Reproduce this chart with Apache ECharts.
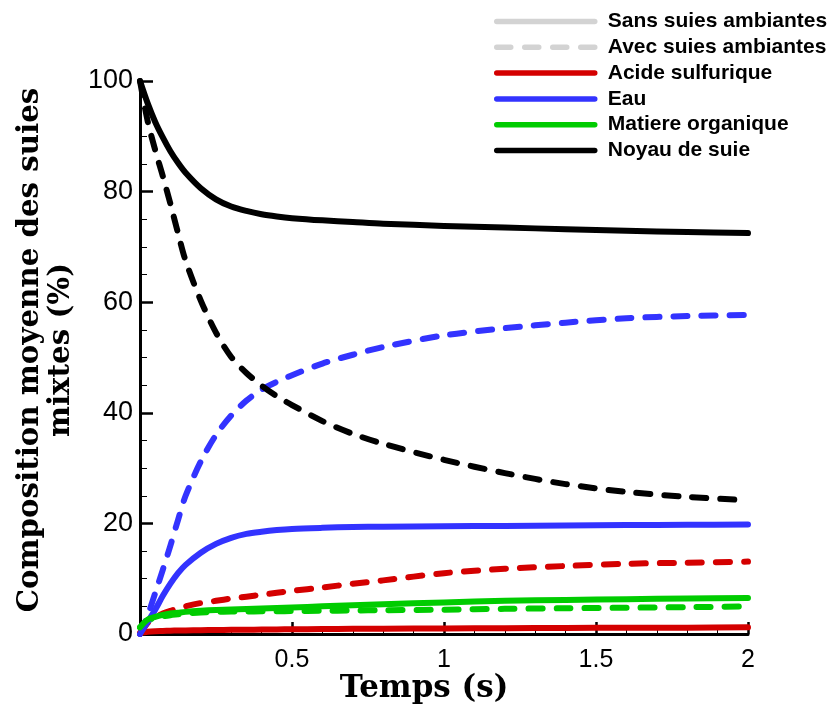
<!DOCTYPE html>
<html><head><meta charset="utf-8">
<script src="https://cdn.jsdelivr.net/npm/echarts@6/dist/echarts.min.js"></script>
<style>html,body{margin:0;padding:0;background:#fff}#c{width:830px;height:709px}</style>
</head><body><div id="c"></div>
<script>
// Time (s)
const time = [0, 0.025, 0.05, 0.075, 0.1, 0.125, 0.15, 0.2, 0.25, 0.3, 0.35, 0.4, 0.45, 0.5, 0.6, 0.7, 0.8, 1.0, 1.2, 1.4, 1.6, 1.8, 2.0];
// Sans suies ambiantes (solid)
const acideSans = [0.2, 0.4, 0.5, 0.55, 0.6, 0.63, 0.65, 0.7, 0.72, 0.75, 0.78, 0.8, 0.83, 0.85, 0.9, 0.93, 0.95, 1.0, 1.05, 1.1, 1.12, 1.15, 1.2];
const eauSans   = [0, 2.2, 4.4, 6.9, 9.1, 11, 12.5, 14.7, 16.3, 17.4, 18.1, 18.5, 18.8, 19.0, 19.2, 19.35, 19.4, 19.5, 19.55, 19.6, 19.7, 19.75, 19.8];
const matSans   = [1.2, 2.6, 3.1, 3.45, 3.7, 3.85, 4.0, 4.2, 4.35, 4.45, 4.52, 4.6, 4.7, 4.8, 5.0, 5.2, 5.4, 5.7, 6.0, 6.15, 6.3, 6.4, 6.5];
const noyauSans = [100, 96, 92.6, 89.8, 87.3, 85.2, 83.4, 80.6, 78.6, 77.3, 76.5, 75.9, 75.5, 75.2, 74.8, 74.5, 74.2, 73.8, 73.5, 73.2, 72.9, 72.7, 72.5];
// Avec suies ambiantes (dashed)
const acideAvec = [0, 2, 3, 3.7, 4.2, 4.6, 5, 5.6, 6, 6.4, 6.75, 7.1, 7.45, 7.8, 8.4, 9.1, 9.7, 11, 11.8, 12.3, 12.7, 12.9, 13.1];
const eauAvec   = [0, 3.3, 7.4, 11.6, 16, 20.6, 25, 31.2, 36, 39.5, 42.2, 44.2, 45.6, 46.8, 48.9, 50.5, 51.9, 54, 55.3, 56.3, 57.1, 57.5, 57.7];
const matAvec   = [1.2, 2.4, 2.9, 3.2, 3.4, 3.55, 3.7, 3.9, 4.0, 4.05, 4.08, 4.1, 4.12, 4.15, 4.2, 4.25, 4.3, 4.4, 4.55, 4.65, 4.75, 4.85, 5.0];
const noyauAvec = [100, 92.8, 87.5, 82.8, 77.8, 72.5, 67.5, 60.3, 54.5, 50.1, 47.2, 44.9, 43, 41.4, 38.5, 36.2, 34.4, 31.5, 29.1, 27.1, 25.7, 24.8, 24.2];

const legendNames = ['Sans suies ambiantes', 'Avec suies ambiantes', 'Acide sulfurique', 'Eau', 'Matiere organique', 'Noyau de suie'];
const xTicks = [0, 0.5, 1, 1.5, 2];
const yTicks = [0, 20, 40, 60, 80, 100];

const RED = '#d40000', BLUE = '#3333ff', GREEN = '#00cc00', BLACK = '#000000', GRAY = '#d3d3d3';
const LW = 6;
const DASH = [14, 14];

function pairs(arr) { return time.map((t, i) => [t, arr[i]]); }
function line(name, arr, color, dashed, z) {
  return {
    name: name, type: 'line', data: arr ? pairs(arr) : [],
    symbol: 'none', showSymbol: false, smooth: 0.3, z: z || 2,
    lineStyle: { color: color, width: LW, type: dashed ? DASH : 'solid', cap: 'round', join: 'round' },
    itemStyle: { color: color },
    emphasis: { disabled: true }, animation: false
  };
}

const chart = echarts.init(document.getElementById('c'), null, { renderer: 'canvas' });
const sansFont = '"Liberation Sans", Arial, Helvetica, sans-serif';
const serifFont = '"DejaVu Serif", serif';

chart.setOption({
  animation: false,
  backgroundColor: '#fff',
  grid: { left: 140, top: 81, width: 608, height: 553, containLabel: false },
  legend: {
    data: legendNames,
    orient: 'vertical', left: 489, top: 6,
    itemWidth: 98, itemHeight: 20, itemGap: 4.8,
    selectedMode: false,
    itemStyle: { opacity: 0 },
    lineStyle: { width: 5.5, cap: 'round' },
    textStyle: { fontFamily: sansFont, fontWeight: 'bold', fontSize: 21, lineHeight: 20, color: '#000', padding: [0, 0, 0, 8] }
  },
  xAxis: {
    type: 'value', min: xTicks[0], max: xTicks[xTicks.length - 1], interval: 0.5,
    axisLine: { show: true, onZero: false, lineStyle: { color: '#000', width: 3 } },
    axisTick: { show: true, inside: true, length: 12, lineStyle: { color: '#000', width: 2.5 } },
    minorTick: { show: true, splitNumber: 5, length: 6, lineStyle: { color: '#000', width: 1 } },
    splitLine: { show: false },
    axisLabel: { fontFamily: sansFont, fontSize: 25, color: '#000', margin: 14,
      formatter: v => v === 0 ? '' : String(v) }
  },
  yAxis: {
    type: 'value', min: yTicks[0], max: yTicks[yTicks.length - 1], interval: 20,
    axisLine: { show: true, onZero: false, lineStyle: { color: '#000', width: 3 } },
    axisTick: { show: true, inside: true, length: 13, lineStyle: { color: '#000', width: 2.5 } },
    minorTick: { show: true, splitNumber: 4, length: 7, lineStyle: { color: '#000', width: 1 } },
    splitLine: { show: false },
    axisLabel: { fontFamily: sansFont, fontSize: 27, color: '#000', margin: 7 }
  },
  graphic: [
    { type: 'text', x: 424, y: 689, silent: true,
      style: { text: 'Temps (s)', font: 'bold 31px ' + serifFont, fill: '#000', textAlign: 'center', textVerticalAlign: 'middle' } },
    { type: 'text', x: 46, y: 350, rotation: Math.PI / 2, silent: true,
      style: { text: 'Composition moyenne des suies\nmixtes (%)', font: 'bold 29.3px ' + serifFont, fill: '#000',
        textAlign: 'center', textVerticalAlign: 'middle', lineHeight: 31 } }
  ],
  series: [
    line('Sans suies ambiantes', null, GRAY, false),
    line('Avec suies ambiantes', null, GRAY, true),
    line('Acide sulfurique', acideSans, RED, false, 3),
    line('Eau', eauSans, BLUE, false, 3),
    line('Matiere organique', matSans, GREEN, false, 3),
    line('Noyau de suie', noyauSans, BLACK, false, 3),
    line('Acide sulfurique (avec)', acideAvec, RED, true, 2),
    line('Eau (avec)', eauAvec, BLUE, true, 2),
    line('Matiere organique (avec)', matAvec, GREEN, true, 2),
    line('Noyau de suie (avec)', noyauAvec, BLACK, true, 2)
  ]
});
</script>
</body></html>
